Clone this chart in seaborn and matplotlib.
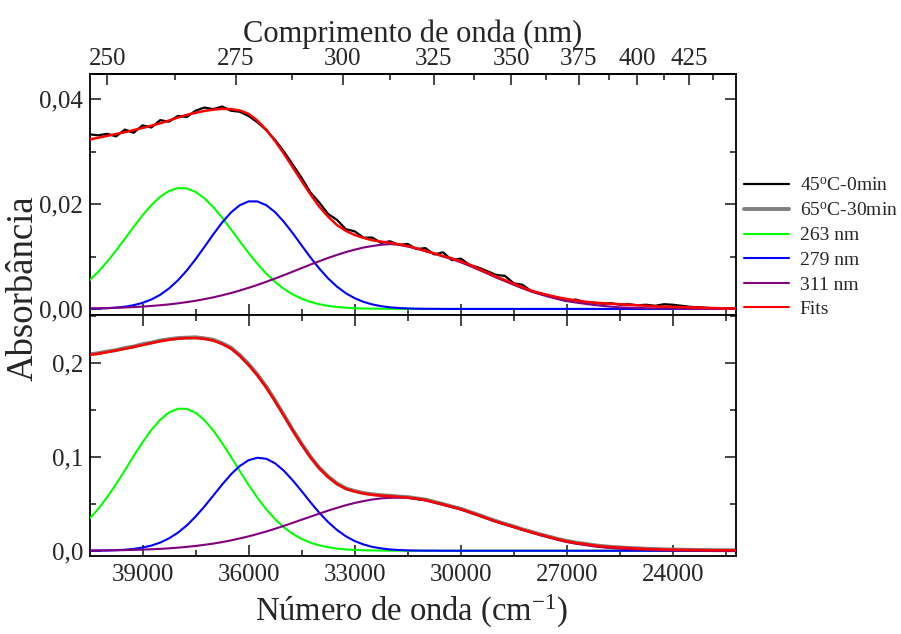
import numpy as np
import matplotlib
matplotlib.use("Agg")
import matplotlib.pyplot as plt
from matplotlib.lines import Line2D
from matplotlib.ticker import FixedLocator, FixedFormatter, MultipleLocator
import seaborn as sns

# ---- wavenumber grid (cm-1) ----
wn = [40500, 40250, 40000, 39750, 39500, 39250, 39000, 38750, 38500, 38250,
      38000, 37750, 37500, 37250, 37000, 36750, 36500, 36250, 36000, 35750,
      35500, 35250, 35000, 34750, 34500, 34250, 34000, 33750, 33500, 33250,
      33000, 32750, 32500, 32250, 32000, 31750, 31500, 31250, 31000, 30750,
      30500, 30250, 30000, 29750, 29500, 29250, 29000, 28750, 28500, 28250,
      28000, 27750, 27500, 27250, 27000, 26750, 26500, 26250, 26000, 25750,
      25500, 25250, 25000, 24750, 24500, 24250, 24000, 23750, 23500, 23250,
      23000, 22750, 22500, 22250, 22000]

# ---- upper panel: 45 oC - 0 min ----
abs_45C = [0.0333, 0.0331, 0.0334, 0.0329, 0.0342, 0.0336, 0.0350, 0.0346, 0.0360, 0.0357,
           0.0368, 0.0366, 0.0378, 0.0384, 0.0381, 0.0386, 0.0378, 0.0376, 0.0368, 0.0356,
           0.0341, 0.0322, 0.0300, 0.0275, 0.0250, 0.0222, 0.0203, 0.0181, 0.0170, 0.0152,
           0.0148, 0.0136, 0.0136, 0.0126, 0.0129, 0.0122, 0.0124, 0.0114, 0.0116, 0.0104,
           0.0108, 0.0093, 0.0096, 0.0084, 0.0079, 0.0072, 0.0065, 0.0063, 0.0049, 0.0046,
           0.0034, 0.0030, 0.0025, 0.0020, 0.0015, 0.0018, 0.0013, 0.0012, 0.0010, 0.0011,
           0.0008, 0.0009, 0.0007, 0.0008, 0.0006, 0.0009, 0.0008, 0.0006, 0.0004, 0.0003,
           0.0002, 0.0001, 0.0001, 0.0001, 0.0000]

fit_45C = [0.0323, 0.03265, 0.0330, 0.03335, 0.0337, 0.0341, 0.0345, 0.03493, 0.0354, 0.03593,
           0.0365, 0.0370, 0.0374, 0.03775, 0.0380, 0.03815, 0.0381, 0.03785, 0.0372, 0.0359,
           0.0342, 0.0320, 0.0296, 0.0270, 0.0244, 0.02185, 0.0195, 0.0176, 0.0160, 0.0149,
           0.0141, 0.01355, 0.0131, 0.01285, 0.0126, 0.01235, 0.0120, 0.01158, 0.0111, 0.0106,
           0.0101, 0.00965, 0.0091, 0.00845, 0.0077, 0.00695, 0.0062, 0.0055, 0.0048, 0.00413,
           0.0035, 0.0030, 0.0026, 0.00222, 0.0019, 0.00163, 0.0014, 0.00123, 0.0011, 0.0010,
           0.0009, 0.0008, 0.0007, 0.0006, 0.0005, 0.00045, 0.0004, 0.00035, 0.0003, 0.00025,
           0.0002, 0.00015, 0.0001, 0.0001, 0.0001]

band263_45C = [0.00545, 0.00710, 0.00900, 0.01112, 0.01337, 0.01565, 0.01784, 0.01980, 0.02139, 0.02250,
               0.02305, 0.02299, 0.02232, 0.02111, 0.01943, 0.01742, 0.01520, 0.01292, 0.01068, 0.00861,
               0.00675, 0.00515, 0.00383, 0.00277, 0.00196, 0.00134, 0.00090, 0.00058, 0.00037, 0.00023,
               0.00014, 0.00008, 0.00005, 0.00003, 0.00002, 0.00001, 0.0, 0.0, 0.0, 0.0,
               0.0, 0.0, 0.0, 0.0, 0.0, 0.0, 0.0, 0.0, 0.0, 0.0,
               0.0, 0.0, 0.0, 0.0, 0.0, 0.0, 0.0, 0.0, 0.0, 0.0,
               0.0, 0.0, 0.0, 0.0, 0.0, 0.0, 0.0, 0.0, 0.0, 0.0,
               0.0, 0.0, 0.0, 0.0, 0.0]

band279_45C = [0.00004, 0.00008, 0.00014, 0.00025, 0.00043, 0.00072, 0.00116, 0.00180, 0.00270, 0.00391,
               0.00545, 0.00732, 0.00948, 0.01182, 0.01421, 0.01647, 0.01839, 0.01978, 0.02051, 0.02050,
               0.01979, 0.01845, 0.01660, 0.01444, 0.01212, 0.00983, 0.00770, 0.00582, 0.00425, 0.00300,
               0.00205, 0.00135, 0.00086, 0.00053, 0.00031, 0.00018, 0.00010, 0.00005, 0.00003, 0.00002,
               0.00001, 0.0, 0.0, 0.0, 0.0, 0.0, 0.0, 0.0, 0.0, 0.0,
               0.0, 0.0, 0.0, 0.0, 0.0, 0.0, 0.0, 0.0, 0.0, 0.0,
               0.0, 0.0, 0.0, 0.0, 0.0, 0.0, 0.0, 0.0, 0.0, 0.0,
               0.0, 0.0, 0.0, 0.0, 0.0]

band311_45C = [0.00010, 0.00013, 0.00017, 0.00022, 0.00028, 0.00036, 0.00045, 0.00057, 0.00071, 0.00087,
               0.00107, 0.00130, 0.00156, 0.00187, 0.00221, 0.00260, 0.00303, 0.00351, 0.00403, 0.00458,
               0.00518, 0.00580, 0.00645, 0.00712, 0.00779, 0.00846, 0.00910, 0.00973, 0.01030, 0.01084,
               0.01130, 0.01171, 0.01200, 0.01224, 0.01237, 0.01222, 0.01190, 0.01150, 0.01100, 0.01052,
               0.01000, 0.00948, 0.00890, 0.00822, 0.00750, 0.00676, 0.00600, 0.00530, 0.00460, 0.00393,
               0.00330, 0.00278, 0.00230, 0.00188, 0.00150, 0.00124, 0.00100, 0.00078, 0.00060, 0.00044,
               0.00030, 0.00024, 0.00020, 0.00014, 0.00010, 0.00010, 0.00010, 0.00005, 0.0, 0.0,
               0.0, 0.0, 0.0, 0.0, 0.0]

# ---- lower panel: 65 oC - 30 min ----
abs_65C = [0.2088, 0.2101, 0.2119, 0.2133, 0.2156, 0.2172, 0.2197, 0.2213, 0.2236, 0.2250,
           0.2262, 0.2266, 0.2270, 0.2259, 0.2244, 0.2207, 0.2160, 0.2080, 0.1986, 0.1872,
           0.1745, 0.1597, 0.1443, 0.1284, 0.1137, 0.0999, 0.0882, 0.0789, 0.0716, 0.0663,
           0.0636, 0.0613, 0.0601, 0.0590, 0.0585, 0.0576, 0.0571, 0.0557, 0.0545, 0.0520,
           0.0497, 0.0471, 0.0447, 0.0414, 0.0383, 0.0348, 0.0316, 0.0286, 0.0259, 0.0228,
           0.0202, 0.0174, 0.0151, 0.0125, 0.0105, 0.0087, 0.0075, 0.0060, 0.0050, 0.0041,
           0.0036, 0.0030, 0.0026, 0.0021, 0.0018, 0.0015, 0.0013, 0.0011, 0.0010, 0.0008,
           0.0007, 0.0006, 0.0006, 0.0005, 0.0005]

fit_65C = [0.2082, 0.2096, 0.2112, 0.2130, 0.2148, 0.2167, 0.2188, 0.2209, 0.2228, 0.2244,
           0.2255, 0.2262, 0.2262, 0.2254, 0.2235, 0.2200, 0.2150, 0.2073, 0.1975, 0.1865,
           0.1735, 0.1590, 0.1435, 0.1279, 0.1130, 0.0994, 0.0876, 0.0784, 0.0710, 0.0659,
           0.0630, 0.0610, 0.0595, 0.0587, 0.0580, 0.0573, 0.0566, 0.0554, 0.0540, 0.0517,
           0.0492, 0.0468, 0.0442, 0.0411, 0.0378, 0.0345, 0.0311, 0.0283, 0.0254, 0.0225,
           0.0197, 0.0171, 0.0146, 0.0122, 0.0100, 0.0084, 0.0071, 0.0058, 0.0046, 0.0039,
           0.0033, 0.0028, 0.0023, 0.0019, 0.0016, 0.0013, 0.0011, 0.0009, 0.0008, 0.0007,
           0.0006, 0.0005, 0.0005, 0.0004, 0.0004]

band263_65C = [0.0340, 0.0446, 0.0569, 0.0707, 0.0855, 0.1007, 0.1153, 0.1285, 0.1393, 0.1470,
               0.1510, 0.1509, 0.1468, 0.1390, 0.1280, 0.1147, 0.1000, 0.0849, 0.0701, 0.0564,
               0.0441, 0.0336, 0.0249, 0.0179, 0.0126, 0.0086, 0.0057, 0.0037, 0.0023, 0.0014,
               0.0008, 0.0005, 0.0003, 0.0002, 0.0001, 0.0001, 0.0, 0.0, 0.0, 0.0,
               0.0, 0.0, 0.0, 0.0, 0.0, 0.0, 0.0, 0.0, 0.0, 0.0,
               0.0, 0.0, 0.0, 0.0, 0.0, 0.0, 0.0, 0.0, 0.0, 0.0,
               0.0, 0.0, 0.0, 0.0, 0.0, 0.0, 0.0, 0.0, 0.0, 0.0,
               0.0, 0.0, 0.0, 0.0, 0.0]

band279_65C = [0.0001, 0.0002, 0.0003, 0.0006, 0.0011, 0.0020, 0.0034, 0.0055, 0.0087, 0.0132,
               0.0192, 0.0269, 0.0363, 0.0470, 0.0586, 0.0703, 0.0812, 0.0901, 0.0963, 0.0989,
               0.0978, 0.0930, 0.0850, 0.0748, 0.0634, 0.0516, 0.0404, 0.0305, 0.0221, 0.0154,
               0.0103, 0.0067, 0.0041, 0.0025, 0.0014, 0.0008, 0.0004, 0.0002, 0.0001, 0.0001,
               0.0, 0.0, 0.0, 0.0, 0.0, 0.0, 0.0, 0.0, 0.0, 0.0,
               0.0, 0.0, 0.0, 0.0, 0.0, 0.0, 0.0, 0.0, 0.0, 0.0,
               0.0, 0.0, 0.0, 0.0, 0.0, 0.0, 0.0, 0.0, 0.0, 0.0,
               0.0, 0.0, 0.0, 0.0, 0.0]

band311_65C = [0.0002, 0.0003, 0.0004, 0.0005, 0.0007, 0.0009, 0.0012, 0.0016, 0.0020, 0.0026,
               0.0033, 0.0041, 0.0051, 0.0063, 0.0076, 0.0092, 0.0110, 0.0131, 0.0153, 0.0178,
               0.0205, 0.0234, 0.0265, 0.0297, 0.0330, 0.0362, 0.0395, 0.0427, 0.0456, 0.0484,
               0.0508, 0.0528, 0.0545, 0.0557, 0.0563, 0.0565, 0.0562, 0.0550, 0.0535, 0.0513,
               0.0489, 0.0465, 0.0439, 0.0408, 0.0375, 0.0342, 0.0309, 0.0280, 0.0251, 0.0222,
               0.0194, 0.0167, 0.0141, 0.0116, 0.0093, 0.0076, 0.0062, 0.0048, 0.0037, 0.0029,
               0.0022, 0.0016, 0.0012, 0.0009, 0.0006, 0.0004, 0.0003, 0.0002, 0.0001, 0.0001,
               0.0001, 0.0, 0.0, 0.0, 0.0]

# ---- axes ticks and labels ----
wn_ticks = [39000, 36000, 33000, 30000, 27000, 24000]
wn_ticklabels = ["39000", "36000", "33000", "30000", "27000", "24000"]
nm_ticks = [250, 275, 300, 325, 350, 375, 400, 425]
nm_minor = [262.5, 287.5, 312.5, 337.5, 362.5, 387.5, 412.5, 437.5]
top_yticks = [0.00, 0.02, 0.04]
top_yticklabels = ["0,00", "0,02", "0,04"]
bot_yticks = [0.0, 0.1, 0.2]
bot_yticklabels = ["0,0", "0,1", "0,2"]

legend_labels = [r"45$^{\mathrm{o}}$C-0min", r"65$^{\mathrm{o}}$C-30min",
                 "263 nm", "279 nm", "311 nm", "Fits"]

C_DATA45 = "black"
C_DATA65 = "#808080"
C_263 = "#00ff00"
C_279 = "#0000ff"
C_311 = "#800080"
C_FIT = "#ff0000"

sns.set_style("ticks")
plt.rcParams.update({
    "font.family": ["Liberation Serif", "DejaVu Serif"],
    "mathtext.fontset": "custom",
    "mathtext.rm": "Liberation Serif",
    "mathtext.it": "Liberation Serif:italic",
    "mathtext.bf": "Liberation Serif:bold",
    "axes.linewidth": 1.3,
    "axes.edgecolor": "black",
})

fig = plt.figure(figsize=(9.01, 6.34), dpi=100)
ax_top = fig.add_axes([0.0999, 0.5036, 0.7166, 0.3797])
ax_bot = fig.add_axes([0.0999, 0.1230, 0.7166, 0.3806], sharex=ax_top)

LW_COMP = 1.5

# upper panel
sns.lineplot(x=wn, y=abs_45C, ax=ax_top, color=C_DATA45, linewidth=1.6, zorder=2)
sns.lineplot(x=wn, y=band263_45C, ax=ax_top, color=C_263, linewidth=LW_COMP, zorder=3)
sns.lineplot(x=wn, y=band279_45C, ax=ax_top, color=C_279, linewidth=LW_COMP, zorder=3)
sns.lineplot(x=wn, y=band311_45C, ax=ax_top, color=C_311, linewidth=LW_COMP, zorder=3)
sns.lineplot(x=wn, y=fit_45C, ax=ax_top, color=C_FIT, linewidth=1.8, zorder=4)

# lower panel
sns.lineplot(x=wn, y=abs_65C, ax=ax_bot, color=C_DATA65, linewidth=2.8, zorder=2)
sns.lineplot(x=wn, y=band263_65C, ax=ax_bot, color=C_263, linewidth=LW_COMP, zorder=3)
sns.lineplot(x=wn, y=band279_65C, ax=ax_bot, color=C_279, linewidth=LW_COMP, zorder=3)
sns.lineplot(x=wn, y=band311_65C, ax=ax_bot, color=C_311, linewidth=LW_COMP, zorder=3)
sns.lineplot(x=wn, y=fit_65C, ax=ax_bot, color=C_FIT, linewidth=1.8, zorder=4)

ax_top.set_xlim(40486, 22222)
ax_top.set_ylim(-0.0011, 0.0448)
ax_bot.set_ylim(-0.0056, 0.251)

TICK_FS = 18
for ax in (ax_top, ax_bot):
    ax.set_xlabel("")
    ax.set_ylabel("")
    ax.xaxis.set_major_locator(FixedLocator(wn_ticks))
    ax.xaxis.set_minor_locator(MultipleLocator(1500))
    ax.tick_params(which="both", direction="in", left=True, right=True,
                   width=1.2, labelsize=TICK_FS)
    ax.tick_params(which="major", length=8)
    ax.tick_params(which="minor", length=4.5)
    for s in ax.spines.values():
        s.set_linewidth(1.3)

ax_top.tick_params(axis="x", which="both", top=False, bottom=True, labelbottom=False)
ax_bot.tick_params(axis="x", which="both", top=True, bottom=True, labelbottom=True, pad=6)
ax_bot.xaxis.set_major_formatter(FixedFormatter(wn_ticklabels))

ax_top.yaxis.set_major_locator(FixedLocator(top_yticks))
ax_top.yaxis.set_major_formatter(FixedFormatter(top_yticklabels))
ax_top.yaxis.set_minor_locator(MultipleLocator(0.01))
ax_bot.yaxis.set_major_locator(FixedLocator(bot_yticks))
ax_bot.yaxis.set_major_formatter(FixedFormatter(bot_yticklabels))
ax_bot.yaxis.set_minor_locator(MultipleLocator(0.05))
for ax in (ax_top, ax_bot):
    ax.tick_params(axis="y", pad=5)


def wn_to_nm(x):
    x = np.asarray(x, dtype=float)
    with np.errstate(divide="ignore", invalid="ignore"):
        return 1e7 / x


sec = ax_top.secondary_xaxis("top", functions=(wn_to_nm, wn_to_nm))
sec.xaxis.set_major_locator(FixedLocator(nm_ticks))
sec.xaxis.set_minor_locator(FixedLocator(nm_minor))
sec.xaxis.set_major_formatter(FixedFormatter([str(t) for t in nm_ticks]))
sec.tick_params(which="both", direction="in", width=1.2, labelsize=TICK_FS, pad=3)
sec.tick_params(which="major", length=8)
sec.tick_params(which="minor", length=4.5)
sec.spines["top"].set_linewidth(1.3)
sec.set_xlabel("Comprimento de onda (nm)", fontsize=22, labelpad=4)

fig.text(0.0255, 0.545, "Absorbância", rotation=90, fontsize=26.5,
         ha="center", va="center")
fig.text(0.457, 0.035, r"Número de onda (cm$^{-1}$)", fontsize=23.5,
         ha="center", va="center")

handles = [
    Line2D([], [], color=C_DATA45, lw=1.6),
    Line2D([], [], color=C_DATA65, lw=2.8),
    Line2D([], [], color=C_263, lw=LW_COMP),
    Line2D([], [], color=C_279, lw=LW_COMP),
    Line2D([], [], color=C_311, lw=LW_COMP),
    Line2D([], [], color=C_FIT, lw=LW_COMP),
]
fig.legend(handles, legend_labels, loc="upper left", bbox_to_anchor=(0.826, 0.72),
           frameon=False, fontsize=14, handlelength=2.3, handletextpad=0.55,
           labelspacing=0.36, borderpad=0, borderaxespad=0)

fig.savefig("out.png", dpi=100)
